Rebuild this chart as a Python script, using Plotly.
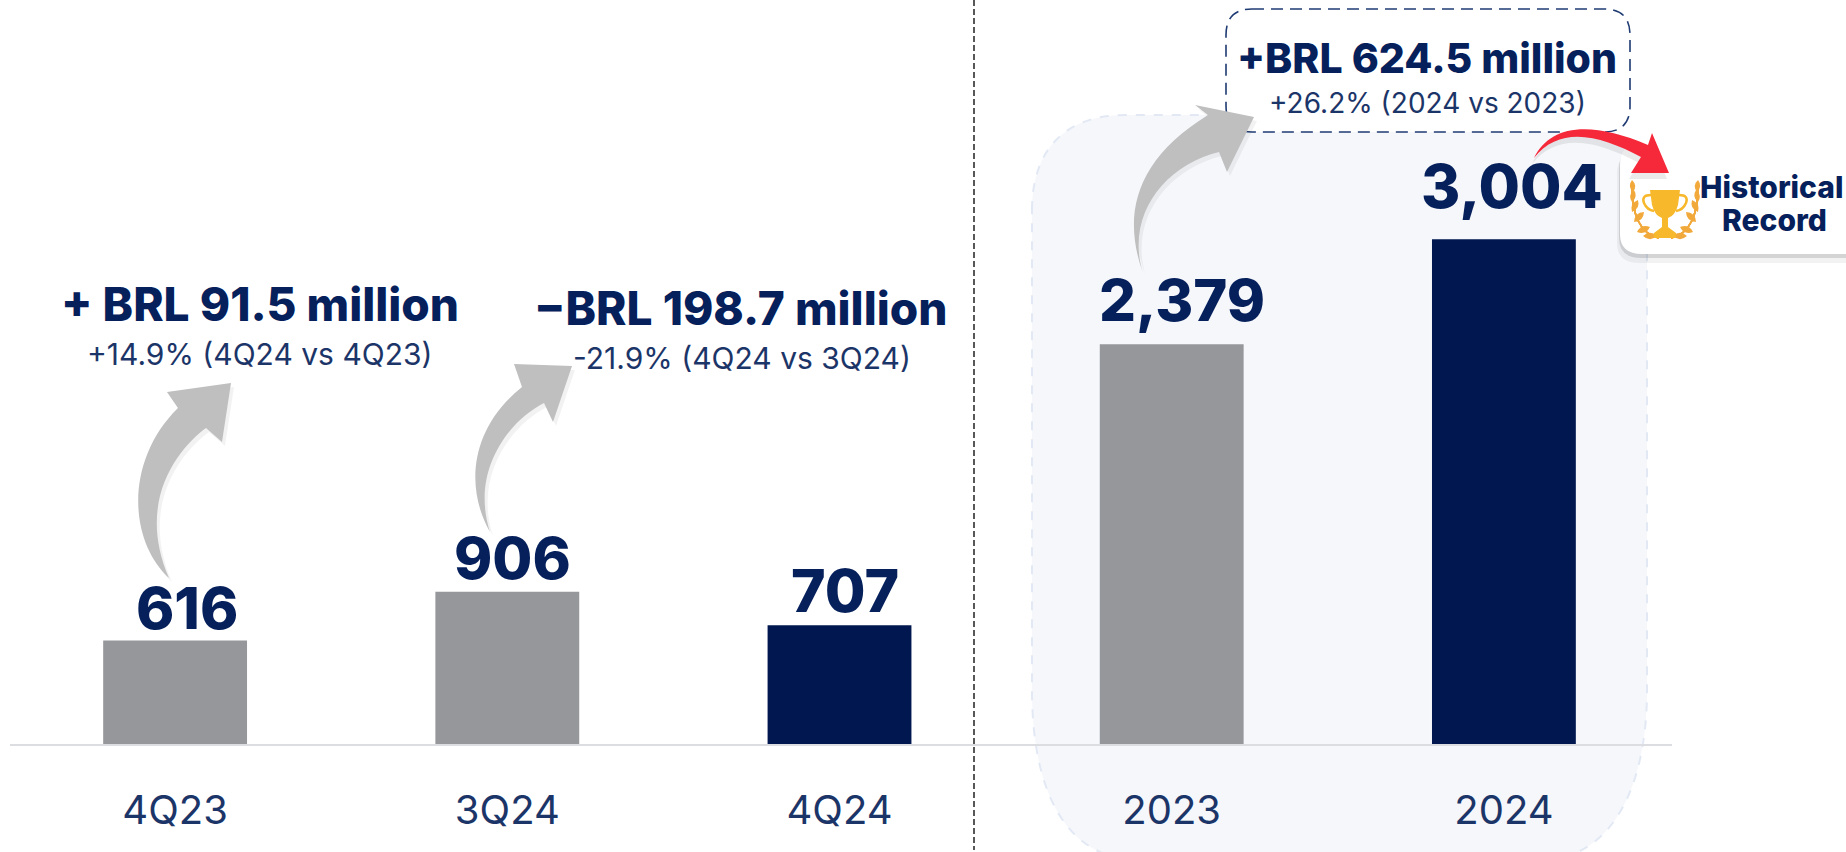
import plotly.graph_objects as go

categories = ["4Q23", "3Q24", "4Q24", "2023", "2024"]
values = [616, 906, 707, 2379, 3004]
value_labels = ["616", "906", "707", "2,379", "3,004"]

GREY = "#96979b"
NAVY = "#00174f"
TEXT = "#06205c"
TICK = "#1c3568"
FONT = "Inter"

bar_colors = [GREY, GREY, NAVY, GREY, NAVY]
label_xshift = [12, 5, 5, 10, 8]
label_yshift = [-4, -3, -3, 7, 15]
label_size = [58, 58, 59, 58, 60]

PL, PR, PB = 10, 1672, 744


def fx(x):
    return (x - PL) / (PR - PL)


def fy(y):
    return (PB - y) / PB


def path(spec, dx=0, dy=0):
    out = []
    for tok in spec.split():
        if "," in tok:
            a, b = tok.split(",")
            out.append(f"{fx(float(a) + dx):.5f},{fy(float(b) + dy):.5f}")
        else:
            out.append(tok)
    return " ".join(out)


def shape(spec, fill=None, line=None, width=0, dash=None, layer="above", opacity=1, dx=0, dy=0):
    ln = dict(width=width)
    if line:
        ln["color"] = line
    if dash:
        ln["dash"] = dash
    d = dict(type="path", xref="paper", yref="paper", path=path(spec, dx, dy), line=ln, layer=layer, opacity=opacity)
    if fill:
        d["fillcolor"] = fill
    return d


shapes = []

# highlighted background for the annual panel
panel = ("M 1032,210 C 1032,150 1065,115 1125,115 L 1555,115 C 1615,115 1647,150 1647,210 "
         "L 1647,690 C 1647,790 1610,860 1540,860 L 1140,860 C 1065,860 1032,790 1032,690 Z")
shapes.append(shape(panel, fill="#f5f7fb", line="#e3e9f4", width=2, dash="dash", layer="below"))

# vertical divider
shapes.append(dict(type="line", xref="paper", yref="paper", x0=fx(974), x1=fx(974), y0=fy(0), y1=fy(850),
                   line=dict(color="#111111", width=1.4, dash="6px,3px"), layer="above"))

# dashed call-out box
box = ("M 1252,9 L 1604,9 Q 1630,9 1630,35 L 1630,106 Q 1630,132 1604,132 L 1252,132 "
       "Q 1226,132 1226,106 L 1226,35 Q 1226,9 1252,9 Z")
shapes.append(shape(box, fill="rgba(255,255,255,1)", line="#1f3b73", width=1.6, dash="12px,7px"))

# grey arrows
arrows = [
    "M 169,578 C 128,540 125,460 178,408 L 167,392 L 231,383 L 222,442 L 206,428 C 180,447 135,500 169,578 Z",
    "M 490,532 C 466,490 468,430 522,387 L 514,364 L 572,366 L 553,422 L 544,403 C 510,420 470,470 490,532 Z",
    "M 1143,273 C 1122,215 1135,160 1208,115 L 1195,105 L 1254,117 L 1227,172 L 1219,152 C 1165,165 1125,215 1143,273 Z",
]
for a in arrows:
    shapes.append(shape(a, fill="#000000", opacity=0.05, dx=3, dy=4))
    shapes.append(shape(a, fill="#bfbfbf"))

# record card
card = "M 1850,143 L 1642,143 Q 1620,143 1620,165 L 1620,234 Q 1620,254 1642,254 L 1850,254 Z"
shapes.append(shape(card, fill="#000000", opacity=0.05, dy=9, dx=-3))
shapes.append(shape(card, fill="#000000", opacity=0.12, dy=4, dx=-1))
shapes.append(shape(card, fill="#ffffff"))

# red arrow
red = "M 1534,158 C 1550,125 1590,120 1648,145 L 1652,133 L 1669,173 L 1631,173 L 1641,157 C 1600,135 1560,125 1534,158 Z"
shapes.append(shape(red, fill="#000000", opacity=0.08, dy=6, dx=-2))
shapes.append(shape(red, fill="#f5293a"))

# trophy
CX = 1665
leaf_pairs = [((22, 236), (8, 236)), ((28, 232), (15, 227)), ((31, 222), (21, 212)), ((33, 212), (27, 200)),
              ((33, 202), (31, 190)), ((32, 192), (33, 180))]
for (bx, by), (tx, ty) in leaf_pairs:
    for sgn in (-1, 1):
        x0, x1 = CX + sgn * bx, CX + sgn * tx
        mx, my = (x0 + x1) / 2, (by + ty) / 2
        nx, ny = (ty - by) * 0.45, (x1 - x0) * -0.45
        shapes.append(shape(f"M {x0},{by} Q {mx + nx},{my + ny} {x1},{ty} Q {mx - nx},{my - ny} {x0},{by} Z",
                            fill="#f2a93b"))
    for sgn in (-1, 1):
        shapes.append(shape(f"M {CX + sgn * 6},238 Q {CX + sgn * 34},232 {CX + sgn * 33},182",
                            line="#f2a93b", width=1.5))
cup = ("M 1650,190 L 1680,190 L 1678,205 Q 1675,216 1668,218 L 1668,227 L 1676,233 L 1676,238 "
       "L 1654,238 L 1654,233 L 1662,227 L 1662,218 Q 1655,216 1652,205 Z")
shapes.append(shape(cup, fill="#f7b82b"))
shapes.append(shape("M 1651,195 Q 1641,195 1644,203 Q 1647,210 1654,211", line="#f7b82b", width=2.5))
shapes.append(shape("M 1679,195 Q 1689,195 1686,203 Q 1683,210 1676,211", line="#f7b82b", width=2.5))

annotations = []


def note(x, y, text, size, weight, color=TEXT):
    annotations.append(dict(xref="paper", yref="paper", x=fx(x), y=fy(y), text=text, showarrow=False,
                            xanchor="center", yanchor="middle",
                            font=dict(family=FONT, size=size, color=color, weight=weight)))


for i, (val, lab, xs, ys, sz) in enumerate(zip(values, value_labels, label_xshift, label_yshift, label_size)):
    annotations.append(dict(x=i, y=val, xref="x", yref="y", text=lab, showarrow=False, xanchor="center",
                            yanchor="bottom", xshift=xs, yshift=ys,
                            font=dict(family=FONT, size=sz, color=TEXT, weight=800)))

note(260, 304, "+ BRL 91.5 million", 46, 800)
note(259, 354, "+14.9% (4Q24 vs 4Q23)", 30, 400, TICK)
note(740, 308, "\u2212BRL 198.7 million", 46, 800)
note(742, 358, "-21.9% (4Q24 vs 3Q24)", 30, 400, TICK)
note(1427, 58, "+BRL 624.5 million", 41, 800)
note(1427, 103, "+26.2% (2024 vs 2023)", 28, 400, TICK)
note(1772, 187, "Historical", 30, 800)
note(1774, 220, "Record", 30, 800)

fig = go.Figure(go.Bar(x=categories, y=values, marker=dict(color=bar_colors, line=dict(width=0)),
                       width=0.433, hoverinfo="skip"))

fig.update_layout(
    width=1846, height=852, autosize=False,
    margin=dict(l=PL, r=1846 - PR, t=0, b=852 - PB, pad=0),
    paper_bgcolor="#ffffff", plot_bgcolor="rgba(0,0,0,0)",
    showlegend=False, shapes=shapes, annotations=annotations,
    xaxis=dict(type="category", range=[-0.497, 4.506], showgrid=False, zeroline=False, showline=True,
               linecolor="#dcdde0", linewidth=2, ticks="",
               tickfont=dict(family=FONT, size=40, color=TICK), ticklabelstandoff=30),
    yaxis=dict(visible=False, range=[0, 744 / 0.168], showgrid=False, zeroline=False),
)

fig.write_html("out.html", config=dict(displayModeBar=False),
               post_script="document.body.style.margin='0';document.body.style.overflow='hidden';")
